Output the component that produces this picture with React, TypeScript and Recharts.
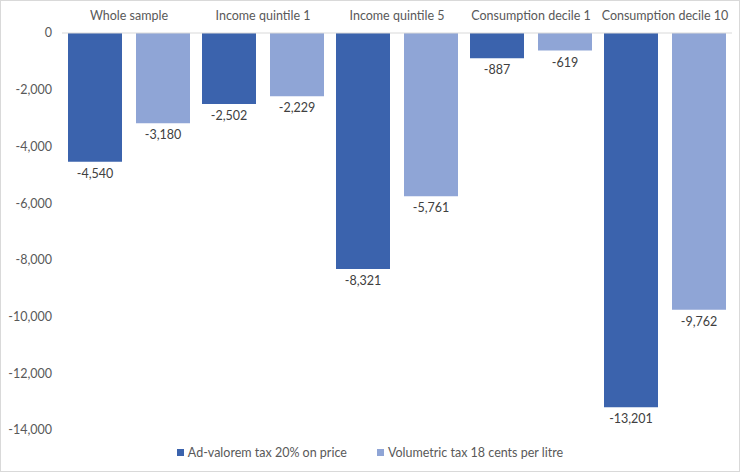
import { Bar, BarChart, LabelList, Legend, XAxis, YAxis } from "recharts";

const categories = ["Whole sample", "Income quintile 1", "Income quintile 5", "Consumption decile 1", "Consumption decile 10"];
const adValorem = [-4540, -2502, -8321, -887, -13201];
const volumetric = [-3180, -2229, -5761, -619, -9762];
const yTicks = [0, -2000, -4000, -6000, -8000, -10000, -12000, -14000];

const data = categories.map((name, i) => ({ name, adValorem: adValorem[i], volumetric: volumetric[i] }));

const fmt = (v: number) => v.toLocaleString("en-US");
const font = "Lato, 'Open Sans', sans-serif";
const DARK = "#3b63ad";
const LIGHT = "#8fa5d6";

// value label just under the end of a negative bar
const EndLabel = (props: any) => {
  const { x, y, width, height, value } = props;
  const end = Math.max(y, y + height);
  return (
    <text x={x + width / 2} y={end + 16} textAnchor="middle" fill="#404040" fontSize={12.5} fontFamily={font}>
      {fmt(value)}
    </text>
  );
};

const LegendContent = (props: any) => {
  const items = props.payload || [];
  return (
    <div style={{ display: "flex", justifyContent: "center", gap: 30, fontSize: 12.5, fontFamily: font, color: "#595959" }}>
      {items.map((it: any) => (
        <div key={it.value} style={{ display: "flex", alignItems: "center" }}>
          <span style={{ display: "inline-block", width: 7, height: 7, background: it.color, marginRight: 4 }} />
          <span>{it.value}</span>
        </div>
      ))}
    </div>
  );
};

export default function App() {
  return (
    <div
      style={{
        position: "absolute",
        left: 0,
        top: 0,
        width: 740,
        height: 472,
        boxSizing: "border-box",
        border: "1px solid #d9d9d9",
        background: "#fff",
        fontFamily: font,
      }}
    >
      <BarChart
        width={738}
        height={470}
        data={data}
        margin={{ top: 2, right: 7, bottom: 11, left: 0 }}
        barSize={54}
        barGap={14}
      >
        <XAxis
          dataKey="name"
          orientation="top"
          height={30}
          axisLine={{ stroke: "#d9d9d9" }}
          tickLine={false}
          tickSize={0}
          tickMargin={13}
          tick={{ fill: "#595959", fontSize: 12.5, fontFamily: font }}
          interval={0}
        />
        <YAxis
          type="number"
          domain={[-14000, 0]}
          ticks={yTicks}
          width={61}
          axisLine={false}
          tickLine={false}
          tickSize={0}
          tickMargin={10}
          tickFormatter={fmt}
          tick={{ fill: "#595959", fontSize: 12.5, fontFamily: font }}
        />
        <Legend
          verticalAlign="bottom"
          height={30}
          content={<LegendContent />}
          wrapperStyle={{ left: 0, width: 738, top: 444, bottom: "auto" }}
        />
        <Bar dataKey="adValorem" name="Ad-valorem tax 20% on price" fill={DARK} isAnimationActive={false}>
          <LabelList dataKey="adValorem" content={<EndLabel />} />
        </Bar>
        <Bar dataKey="volumetric" name="Volumetric tax 18 cents per litre" fill={LIGHT} isAnimationActive={false}>
          <LabelList dataKey="volumetric" content={<EndLabel />} />
        </Bar>
      </BarChart>
    </div>
  );
}
